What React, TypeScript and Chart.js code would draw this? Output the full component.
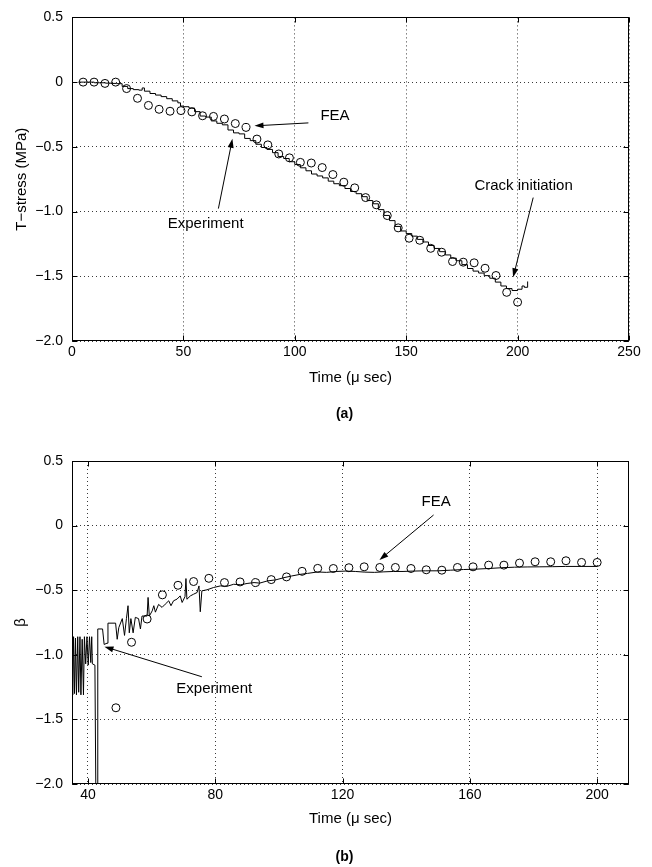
import React, { useEffect, useRef } from 'react';
import { Chart, registerables } from 'chart.js';

Chart.register(...registerables);

const FONT_FAMILY = '"Liberation Sans", Arial, Helvetica, sans-serif';

// ---------- (a) T-stress history ----------
const feaTimeA = [
  5.0, 9.9, 14.8, 19.6, 24.5, 29.4, 34.3, 39.1, 44.0, 48.9,
  53.8, 58.6, 63.5, 68.4, 73.3, 78.1, 83.0, 87.9, 92.8, 97.6,
  102.5, 107.4, 112.3, 117.1, 122.0, 126.9, 131.8, 136.6, 141.5, 146.4,
  151.3, 156.1, 161.0, 165.9, 170.8, 175.6, 180.5, 185.4, 190.3, 195.1,
  200.0,
];
const feaStressA = [
  0, 0, -0.01, 0, -0.05, -0.125, -0.18, -0.21, -0.225, -0.22,
  -0.23, -0.26, -0.265, -0.285, -0.32, -0.35, -0.44, -0.485, -0.555, -0.585,
  -0.62, -0.625, -0.66, -0.714, -0.773, -0.817, -0.892, -0.948, -1.031, -1.126,
  -1.206, -1.222, -1.284, -1.314, -1.386, -1.391, -1.396, -1.438, -1.494, -1.624,
  -1.7,
];
const expTimeA = [
  3, 5, 7.5, 10, 12.5, 15, 17.5, 20, 22.5, 25,
  27.5, 30, 31.5, 32.5, 35, 37.5, 40, 42.5, 45, 47.5,
  48.7, 50, 52.5, 55, 57.5, 60, 62.5, 65, 67.5, 70,
  72.5, 75, 77.5, 80, 82.5, 85, 87.5, 90, 92.5, 95,
  97.5, 100, 102.5, 105, 107.5, 110, 112.5, 115, 117.5, 120,
  122.5, 125, 127.5, 130, 132.5, 135, 137.5, 140, 142.5, 145,
  147.5, 150, 152.5, 155, 157.5, 160, 162.5, 165, 167.5, 170,
  172.5, 175, 177.5, 180, 182.5, 185, 187.5, 190, 192.5, 195,
  197.5, 200, 202, 203, 204.5,
];
const expStressA = [
  0, 0, 0, -0.005, -0.005, -0.008, -0.01, -0.012, -0.033, -0.05,
  -0.058, -0.062, -0.045, -0.07, -0.088, -0.1, -0.112, -0.128, -0.145, -0.16,
  -0.185, -0.19, -0.2, -0.228, -0.262, -0.27, -0.3, -0.318, -0.33, -0.37,
  -0.392, -0.4, -0.435, -0.452, -0.48, -0.505, -0.52, -0.545, -0.575, -0.59,
  -0.615, -0.637, -0.662, -0.685, -0.71, -0.725, -0.74, -0.765, -0.785, -0.8,
  -0.822, -0.845, -0.862, -0.885, -0.915, -0.94, -0.985, -1.03, -1.07, -1.115,
  -1.15, -1.17, -1.19, -1.215, -1.235, -1.262, -1.285, -1.31, -1.335, -1.36,
  -1.38, -1.41, -1.44, -1.46, -1.475, -1.495, -1.515, -1.545, -1.575, -1.595,
  -1.61, -1.6, -1.575, -1.585, -1.54,
];
const xTicksA = [0, 50, 100, 150, 200, 250];

// ---------- (b) biaxiality ratio history ----------
const feaTimeB = [
  48.8, 53.7, 58.6, 63.4, 68.3, 73.2, 78.0, 82.9, 87.8, 92.7,
  97.6, 102.4, 107.3, 112.2, 117.1, 122.0, 126.8, 131.7, 136.6, 141.5,
  146.3, 151.2, 156.1, 161.0, 165.9, 170.7, 175.6, 180.5, 185.4, 190.2,
  195.1, 200.0,
];
const feaBetaB = [
  -1.41, -0.903, -0.723, -0.536, -0.462, -0.433, -0.408, -0.441, -0.436, -0.441,
  -0.418, -0.397, -0.354, -0.331, -0.332, -0.326, -0.319, -0.324, -0.324, -0.332,
  -0.342, -0.345, -0.324, -0.319, -0.306, -0.306, -0.29, -0.28, -0.28, -0.272,
  -0.285, -0.285,
];
const expTimeB = [
  35.0, 35.2, 35.5, 35.8, 36.1, 36.4, 36.8, 37.1, 37.5, 37.8,
  38.2, 38.6, 38.9, 39.3, 39.7, 40.1, 40.5, 40.9, 41.2, 41.4,
  42.2, 42.5, 42.9, 43.1, 44.6, 45.1, 46.0, 46.3, 48.7, 49.2,
  49.7, 50.8, 51.5, 52.1, 52.6, 53.0, 53.5, 54.2, 54.9, 55.9,
  56.5, 57.0, 58.6, 58.9, 59.3, 60.2, 60.7, 61.2, 62.2, 63.3,
  64.3, 65.4, 66.1, 66.9, 68.0, 69.0, 69.6, 70.5, 70.8, 71.1,
  72.2, 73.2, 74.3, 74.9, 75.3, 75.8, 77.4, 79.5, 81.6, 83.7,
  85.8, 88.0, 90.0, 92.2, 94.0, 96.4, 99.0, 101.6, 104.0, 106.8,
  109.0, 112.1, 115.0, 118.0, 121.0, 124.0, 127.0, 130.0, 133.0, 136.0,
  139.0, 142.0, 146.0, 150.0, 154.0, 158.0, 162.0, 166.0, 170.0, 174.0,
  178.0, 182.0, 186.0, 190.0, 195.0, 200.0,
];
const expBetaB = [
  -0.86, -1.31, -0.86, -1.3, -0.87, -1.31, -0.86, -1.29, -0.86, -1.31,
  -0.88, -1.31, -0.86, -1.07, -0.86, -1.08, -0.86, -1.06, -0.86, -1.07,
  -1.08, -2.1, -2.1, -0.8, -0.8, -0.92, -0.91, -0.755, -0.755, -0.88,
  -0.79, -0.72, -0.85, -0.72, -0.62, -0.83, -0.72, -0.83, -0.71, -0.72,
  -0.8, -0.7, -0.7, -0.556, -0.7, -0.66, -0.62, -0.67, -0.61, -0.633,
  -0.608, -0.582, -0.62, -0.582, -0.569, -0.544, -0.595, -0.55, -0.41, -0.57,
  -0.544, -0.531, -0.518, -0.467, -0.667, -0.505, -0.497, -0.479, -0.467, -0.47,
  -0.454, -0.458, -0.448, -0.441, -0.445, -0.428, -0.42, -0.403, -0.39, -0.377,
  -0.37, -0.359, -0.362, -0.355, -0.352, -0.355, -0.36, -0.362, -0.358, -0.355,
  -0.355, -0.352, -0.35, -0.35, -0.345, -0.34, -0.337, -0.332, -0.326, -0.322,
  -0.32, -0.319, -0.318, -0.316, -0.316, -0.316,
];
const xTicksB = [40, 80, 120, 160, 200];

const yTicks = [0.5, 0, -0.5, -1.0, -1.5, -2.0];

// Callouts in data coordinates: label anchor, arrow tail and arrow head.
type Note = {
  text: string;
  at: [number, number];
  align: CanvasTextAlign;
  tail: [number, number];
  head: [number, number];
};

const notesA: Note[] = [
  { text: 'FEA', at: [111.5, -0.262], align: 'left', tail: [106.1, -0.315], head: [81.9, -0.338] },
  { text: 'Experiment', at: [60, -1.092], align: 'center', tail: [65.7, -0.977], head: [72, -0.438] },
  { text: 'Crack initiation', at: [202.7, -0.8], align: 'center', tail: [207, -0.892], head: [198, -1.508] },
];

const notesB: Note[] = [
  { text: 'FEA', at: [149.4, 0.183], align: 'center', tail: [148.6, 0.082], head: [131.6, -0.266] },
  { text: 'Experiment', at: [79.7, -1.265], align: 'center', tail: [75.8, -1.17], head: [45.2, -0.937] },
];

function fmtTick(v: number): string {
  if (v === 0) return '0';
  return (v < 0 ? '\u2212' : '') + Math.abs(v).toFixed(1);
}

function drawArrow(ctx: CanvasRenderingContext2D, x1: number, y1: number, x2: number, y2: number) {
  const ang = Math.atan2(y2 - y1, x2 - x1);
  const len = 9;
  const half = 3;
  const c = Math.cos(ang);
  const s = Math.sin(ang);
  ctx.beginPath();
  ctx.moveTo(x1, y1);
  ctx.lineTo(x2 - len * 0.7 * c, y2 - len * 0.7 * s);
  ctx.stroke();
  ctx.beginPath();
  ctx.moveTo(x2, y2);
  ctx.lineTo(x2 - len * c + half * s, y2 - len * s - half * c);
  ctx.lineTo(x2 - len * c - half * s, y2 - len * s + half * c);
  ctx.closePath();
  ctx.fill();
}

function framePlugin(notes: Note[], caption: string) {
  return {
    id: 'frameAndNotes',
    afterDatasetsDraw(chart: any) {
      const { ctx, chartArea: area } = chart;
      const xs = chart.scales.x;
      const ys = chart.scales.y;
      ctx.save();
      ctx.strokeStyle = '#000';
      ctx.fillStyle = '#000';
      ctx.lineWidth = 1;

      // axes box
      const l = Math.round(area.left) + 0.5;
      const t = Math.round(area.top) + 0.5;
      const r = Math.round(area.right) - 0.5;
      const b = Math.round(area.bottom) - 0.5;
      ctx.strokeRect(l, t, r - l, b - t);

      // inward tick marks on all four sides
      ctx.beginPath();
      xs.ticks.forEach((tk: any) => {
        const px = Math.round(xs.getPixelForValue(tk.value)) + 0.5;
        ctx.moveTo(px, b);
        ctx.lineTo(px, b - 5);
        ctx.moveTo(px, t);
        ctx.lineTo(px, t + 5);
      });
      ys.ticks.forEach((tk: any) => {
        const py = Math.round(ys.getPixelForValue(tk.value)) + 0.5;
        ctx.moveTo(l, py);
        ctx.lineTo(l + 5, py);
        ctx.moveTo(r, py);
        ctx.lineTo(r - 5, py);
      });
      ctx.stroke();

      // callouts
      ctx.font = `15px ${FONT_FAMILY}`;
      ctx.textBaseline = 'middle';
      notes.forEach((n) => {
        ctx.textAlign = n.align;
        ctx.fillText(n.text, xs.getPixelForValue(n.at[0]), ys.getPixelForValue(n.at[1]));
        drawArrow(
          ctx,
          xs.getPixelForValue(n.tail[0]),
          ys.getPixelForValue(n.tail[1]),
          xs.getPixelForValue(n.head[0]),
          ys.getPixelForValue(n.head[1]),
        );
      });

      // panel caption
      ctx.font = `bold 14px ${FONT_FAMILY}`;
      ctx.textAlign = 'center';
      ctx.fillText(caption, (area.left + area.right) / 2 - 6, area.bottom + 73);
      ctx.restore();
    },
  };
}

type PanelSpec = {
  feaX: number[];
  feaY: number[];
  expX: number[];
  expY: number[];
  xMin: number;
  xMax: number;
  xTicks: number[];
  yTitle: string;
  stepped: boolean;
  padTop: number;
  xAxisHeight: number;
  xTitlePad: number;
  yTitlePad: number;
  notes: Note[];
  caption: string;
};

function buildConfig(p: PanelSpec): any {
  const tickFont = { family: FONT_FAMILY, size: 14 };
  const titleFont = { family: FONT_FAMILY, size: 15 };
  const grid = { color: '#3a3a3a', lineWidth: 1, drawTicks: false };
  const border = { display: false, dash: [1, 3] };
  return {
    type: 'scatter',
    data: {
      datasets: [
        {
          label: 'Experiment',
          data: p.expX.map((x, i) => ({ x, y: p.expY[i] })),
          showLine: true,
          stepped: p.stepped,
          borderColor: '#000',
          borderWidth: 1,
          pointRadius: 0,
          order: 2,
        },
        {
          label: 'FEA',
          data: p.feaX.map((x, i) => ({ x, y: p.feaY[i] })),
          showLine: false,
          pointStyle: 'circle',
          pointRadius: 4,
          pointBorderWidth: 1,
          borderColor: '#000',
          backgroundColor: 'rgba(0,0,0,0)',
          order: 1,
        },
      ],
    },
    options: {
      responsive: false,
      animation: false,
      events: [],
      layout: { padding: { top: p.padTop, right: 23, bottom: 0, left: 0 } },
      plugins: { legend: { display: false }, tooltip: { enabled: false } },
      scales: {
        x: {
          type: 'linear',
          min: p.xMin,
          max: p.xMax,
          afterBuildTicks: (s: any) => {
            s.ticks = p.xTicks.map((value) => ({ value }));
          },
          afterFit: (s: any) => {
            s.height = p.xAxisHeight;
          },
          grid,
          border,
          ticks: { color: '#000', font: tickFont, padding: 3, maxRotation: 0, autoSkip: false },
          title: {
            display: true,
            text: 'Time (\u03bc sec)',
            color: '#000',
            font: titleFont,
            padding: { top: 0, bottom: p.xTitlePad },
          },
        },
        y: {
          type: 'linear',
          min: -2,
          max: 0.5,
          afterBuildTicks: (s: any) => {
            s.ticks = yTicks.map((value) => ({ value }));
          },
          afterFit: (s: any) => {
            s.width = 72;
          },
          grid,
          border,
          ticks: { color: '#000', font: tickFont, padding: 9, callback: (v: any) => fmtTick(Number(v)) },
          title: {
            display: true,
            text: p.yTitle,
            color: '#000',
            font: titleFont,
            padding: { top: p.yTitlePad, bottom: 0 },
          },
        },
      },
    },
    plugins: [framePlugin(p.notes, p.caption)],
  };
}

const panelA: PanelSpec = {
  feaX: feaTimeA,
  feaY: feaStressA,
  expX: expTimeA,
  expY: expStressA,
  xMin: 0,
  xMax: 250,
  xTicks: xTicksA,
  yTitle: 'T\u2212stress (MPa)',
  stepped: true,
  padTop: 16,
  xAxisHeight: 91,
  xTitlePad: 45,
  yTitlePad: 13,
  notes: notesA,
  caption: '(a)',
};

const panelB: PanelSpec = {
  feaX: feaTimeB,
  feaY: feaBetaB,
  expX: expTimeB,
  expY: expBetaB,
  xMin: 35,
  xMax: 210,
  xTicks: xTicksB,
  yTitle: '\u03b2',
  stepped: false,
  padTop: 29,
  xAxisHeight: 83,
  xTitlePad: 39,
  yTitlePad: 12,
  notes: notesB,
  caption: '(b)',
};

export default function App() {
  const refA = useRef<HTMLCanvasElement | null>(null);
  const refB = useRef<HTMLCanvasElement | null>(null);

  useEffect(() => {
    const charts: Chart[] = [];
    if (refA.current) charts.push(new Chart(refA.current, buildConfig(panelA)));
    if (refB.current) charts.push(new Chart(refB.current, buildConfig(panelB)));
    return () => charts.forEach((c) => c.destroy());
  }, []);

  return (
    <div style={{ position: 'absolute', left: 0, top: 0, width: 652, height: 867, background: '#fff' }}>
      <canvas ref={refA} width={652} height={432} style={{ position: 'absolute', left: 0, top: 0, display: 'block' }} />
      <canvas ref={refB} width={652} height={435} style={{ position: 'absolute', left: 0, top: 432, display: 'block' }} />
    </div>
  );
}
